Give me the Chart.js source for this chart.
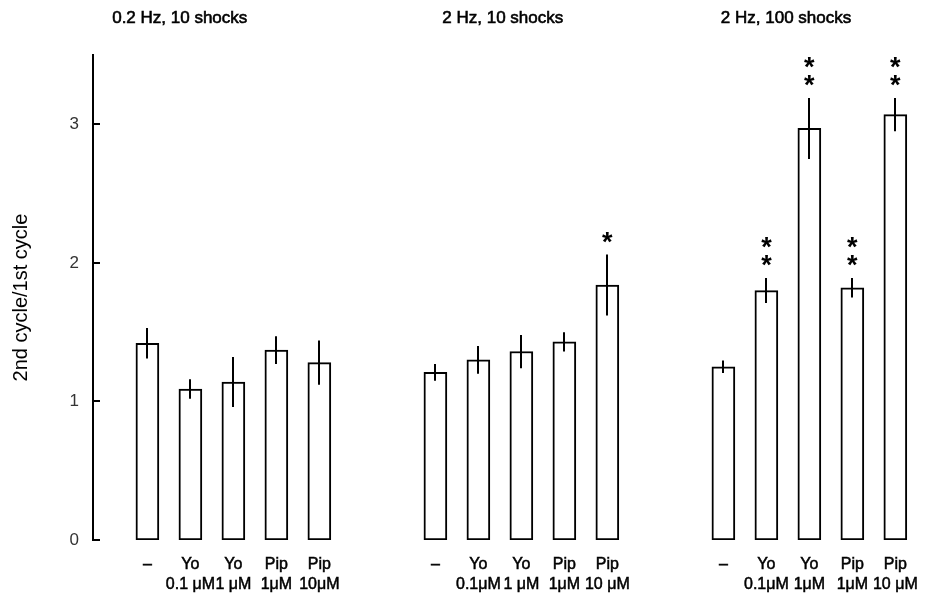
<!DOCTYPE html>
<html>
<head>
<meta charset="utf-8">
<script src="https://cdn.jsdelivr.net/npm/chart.js@4.4.0/dist/chart.umd.min.js"></script>
<style>
  html, body { margin: 0; padding: 0; background: #fff; }
  #wrap { width: 933px; height: 595px; }
</style>
</head>
<body>
<div id="wrap"><canvas id="c" width="933" height="595"></canvas></div>
<script>
// Stimulation conditions (one panel each)
const groupTitles = ['0.2 Hz, 10 shocks', '2 Hz, 10 shocks', '2 Hz, 100 shocks'];

// Treatments within each panel
const drugLabels = ['\u2013', 'Yo', 'Yo', 'Pip', 'Pip'];
const doseLabels02Hz10 = ['', '0.1 \u03bcM', '1 \u03bcM', '1\u03bcM', '10\u03bcM'];
const doseLabels2Hz10 = ['', '0.1\u03bcM', '1 \u03bcM', '1\u03bcM', '10 \u03bcM'];
const doseLabels2Hz100 = ['', '0.1\u03bcM', '1\u03bcM', '1\u03bcM', '10 \u03bcM'];

// Ratio of 2nd to 1st cycle, mean and s.e.mean
const ratio02Hz10 = [1.42, 1.09, 1.14, 1.37, 1.28];
const sem02Hz10 = [0.11, 0.07, 0.18, 0.10, 0.16];
const ratio2Hz10 = [1.21, 1.30, 1.36, 1.43, 1.84];
const sem2Hz10 = [0.06, 0.10, 0.12, 0.07, 0.22];
const ratio2Hz100 = [1.25, 1.80, 2.97, 1.82, 3.07];
const sem2Hz100 = [0.045, 0.09, 0.22, 0.07, 0.12];

// Significance marks (number of asterisks)
const stars02Hz10 = [0, 0, 0, 0, 0];
const stars2Hz10 = [0, 0, 0, 0, 1];
const stars2Hz100 = [0, 2, 2, 2, 2];

const yTicks = [0, 1, 2, 3];

// ---- layout constants ----
const GROUP_STRIDE = 6.7;            // 5 bars + gap, in x-axis units
const titleOffsets = [-0.82, 0.16, -0.06];
const FONT = '"Liberation Sans", Arial, Helvetica, sans-serif';

const means = [ratio02Hz10, ratio2Hz10, ratio2Hz100];
const sems = [sem02Hz10, sem2Hz10, sem2Hz100];
const stars = [stars02Hz10, stars2Hz10, stars2Hz100];
const doses = [doseLabels02Hz10, doseLabels2Hz10, doseLabels2Hz100];

const points = [];
const tickLabels = [];
means.forEach((arr, g) => arr.forEach((v, i) => {
  points.push({ x: g * GROUP_STRIDE + i, y: v });
  tickLabels.push([drugLabels[i], doses[g][i]]);
}));
const tickPositions = points.map(p => p.x);

const decorations = {
  id: 'decorations',
  afterDatasetsDraw(chart) {
    const ctx = chart.ctx;
    const ys = chart.scales.y, xs = chart.scales.x;
    const area = chart.chartArea;
    const bars = chart.getDatasetMeta(0).data;
    ctx.save();
    ctx.strokeStyle = '#000';
    ctx.fillStyle = '#000';
    ctx.lineWidth = 2;
    ctx.lineCap = 'butt';

    // error bars and significance asterisks
    bars.forEach((bar, k) => {
      const g = Math.floor(k / 5), i = k % 5;
      const m = means[g][i], e = sems[g][i];
      const top = ys.getPixelForValue(m + e);
      const bot = ys.getPixelForValue(m - e);
      ctx.beginPath();
      ctx.moveTo(Math.round(bar.x), top);
      ctx.lineTo(Math.round(bar.x), bot);
      ctx.stroke();
      ctx.font = 'bold 27px ' + FONT;
      ctx.textAlign = 'center';
      ctx.textBaseline = 'alphabetic';
      for (let s = 0; s < stars[g][i]; s++) {
        const cy = top - 20 - s * 18;
        ctx.fillText('*', bar.x, cy + 16);
      }
    });

    // inward tick marks on the value axis
    ys.ticks.forEach(t => {
      const py = Math.round(ys.getPixelForValue(t.value));
      ctx.beginPath();
      ctx.moveTo(area.left, py);
      ctx.lineTo(area.left + 7, py);
      ctx.stroke();
    });

    // panel titles
    ctx.font = '17px ' + FONT;
    ctx.textAlign = 'left';
    ctx.textBaseline = 'middle';
    ctx.lineWidth = 0.6;
    groupTitles.forEach((t, g) => {
      const px = xs.getPixelForValue(g * GROUP_STRIDE + titleOffsets[g]);
      ctx.fillText(t, px, 18);
      ctx.strokeText(t, px, 18);
    });
    ctx.restore();
  }
};

new Chart(document.getElementById('c'), {
  type: 'bar',
  data: {
    datasets: [{
      data: points,
      backgroundColor: '#fff',
      borderColor: '#000',
      borderWidth: 2,
      borderSkipped: false,
      barThickness: 23
    }]
  },
  options: {
    responsive: false,
    animation: false,
    events: [],
    layout: { padding: { top: 55, right: 8, left: 0, bottom: 0 } },
    plugins: { legend: { display: false }, tooltip: { enabled: false } },
    scales: {
      x: {
        type: 'linear',
        offset: false,
        min: -1.266,
        max: 18.06,
        grid: { display: false, drawTicks: false },
        border: { display: false },
        afterBuildTicks: s => { s.ticks = tickPositions.map(v => ({ value: v })); },
        afterFit: s => { s.height = 55; },
        ticks: {
          autoSkip: false,
          maxRotation: 0,
          minRotation: 0,
          padding: 15,
          color: '#000',
          textStrokeColor: '#000',
          textStrokeWidth: 0.5,
          font: { family: FONT, size: 16, lineHeight: 1.25 },
          callback: (v, idx) => tickLabels[idx]
        }
      },
      y: {
        min: 0,
        max: 3.5,
        grid: { display: false, drawTicks: false },
        border: { display: true, color: '#000', width: 2 },
        afterBuildTicks: s => { s.ticks = yTicks.map(v => ({ value: v })); },
        afterFit: s => { s.width = 93; },
        ticks: {
          padding: 14,
          color: '#333',
          font: { family: FONT, size: 17 },
          callback: v => String(v)
        },
        title: {
          display: true,
          text: '2nd cycle/1st cycle',
          color: '#000',
          font: { family: FONT, size: 20 },
          padding: { top: 9, bottom: 0 }
        }
      }
    }
  },
  plugins: [decorations]
});
</script>
</body>
</html>
